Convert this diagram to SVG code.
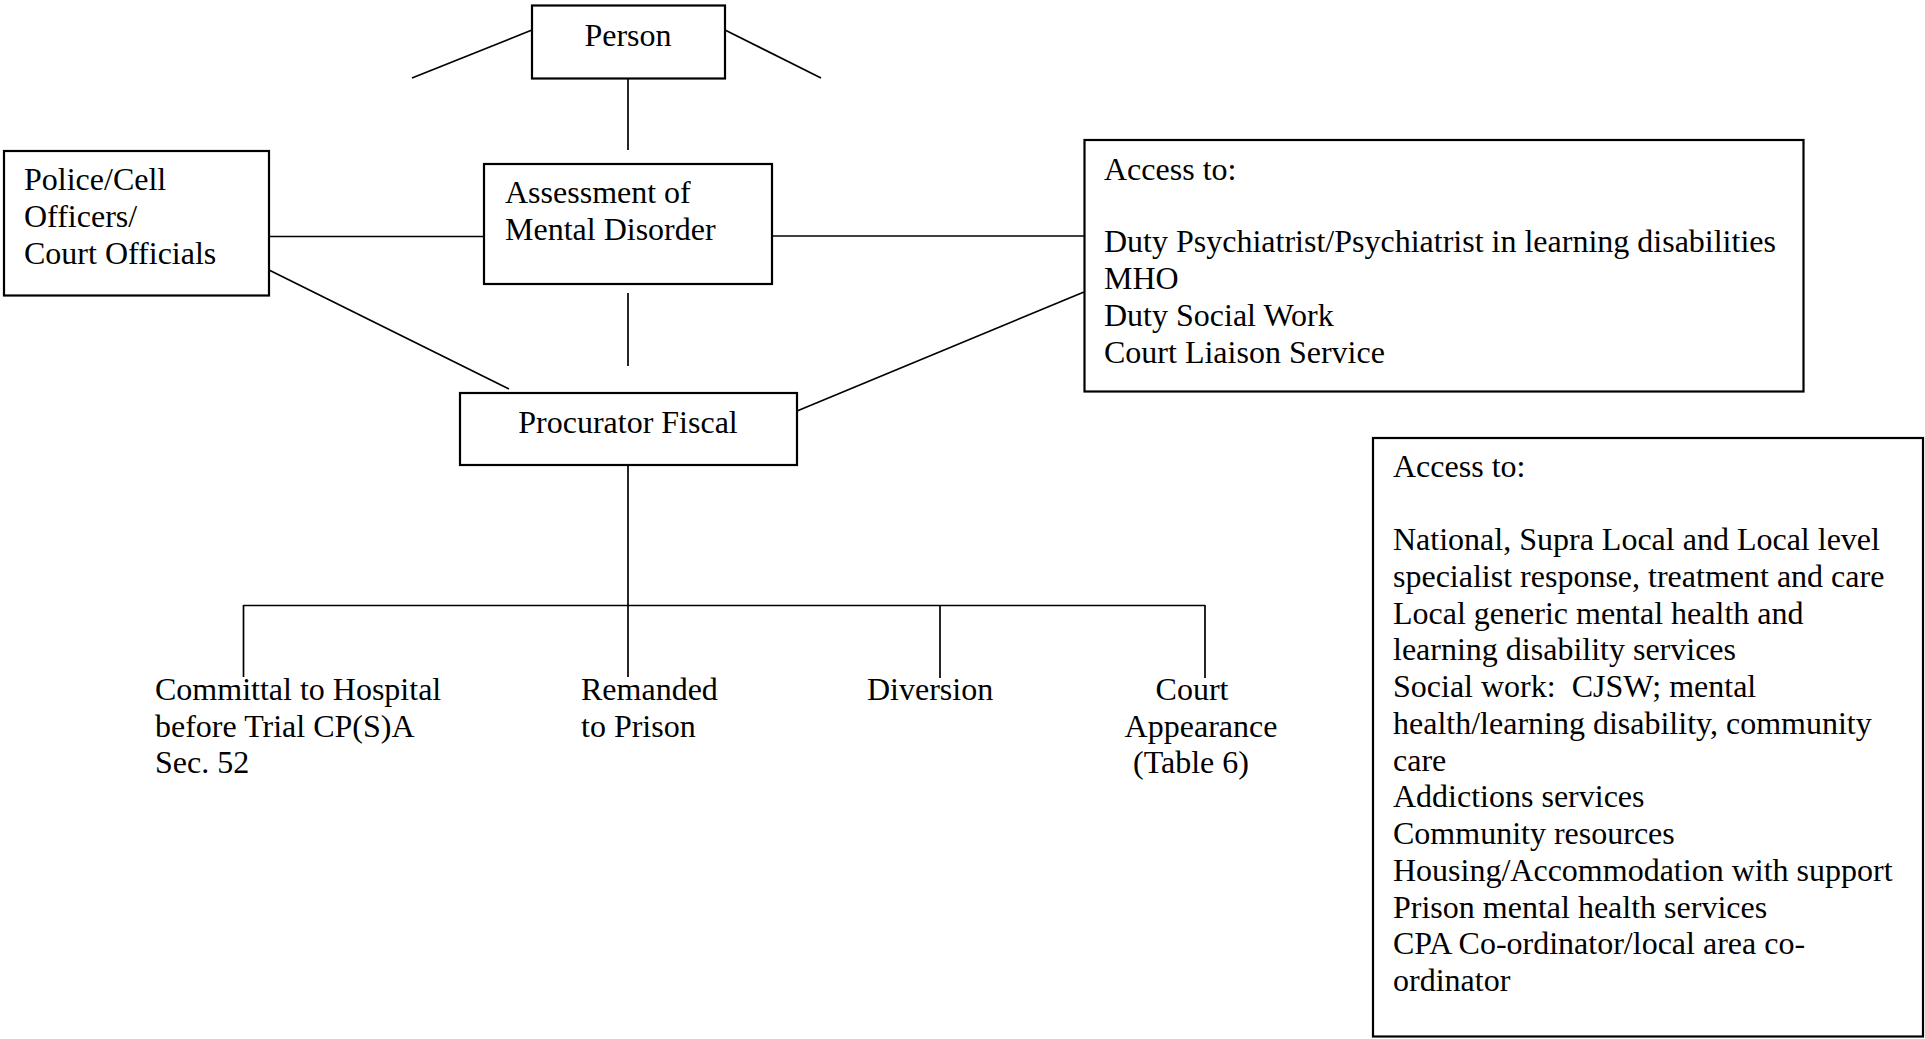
<svg xmlns="http://www.w3.org/2000/svg" width="1925" height="1039" viewBox="0 0 1925 1039">
<style>
.box{fill:#fff;stroke:#000;stroke-width:2.2}
.ln{fill:none;stroke:#000;stroke-width:1.7}
text{font-family:"Liberation Serif","Times New Roman",serif;font-size:32px;fill:#000}
.c{text-anchor:middle}
</style>
<rect width="1925" height="1039" fill="#fff"/>
<g id="connectors">
<line class="ln" x1="412" y1="78" x2="532" y2="30"/>
<line class="ln" x1="725" y1="30" x2="821" y2="78"/>
<line class="ln" x1="628" y1="78" x2="628" y2="150"/>
<line class="ln" x1="269" y1="236.5" x2="484" y2="236.5"/>
<line class="ln" x1="772" y1="236" x2="1084" y2="236"/>
<line class="ln" x1="269" y1="270" x2="509" y2="389"/>
<line class="ln" x1="628" y1="293" x2="628" y2="366"/>
<line class="ln" x1="797" y1="411" x2="1084" y2="292"/>
<line class="ln" x1="628" y1="465" x2="628" y2="677"/>
<line class="ln" x1="243.5" y1="605.5" x2="1205" y2="605.5"/>
<line class="ln" x1="243.5" y1="605" x2="243.5" y2="677"/>
<line class="ln" x1="940" y1="605" x2="940" y2="678"/>
<line class="ln" x1="1205" y1="605" x2="1205" y2="678"/>
</g>
<g id="person">
<rect class="box" x="532" y="5.5" width="193" height="73"/>
<text class="c" x="628" y="46">Person</text>
</g>
<g id="police">
<rect class="box" x="4" y="151" width="265" height="144.5"/>
<text x="24" y="190">Police/Cell</text>
<text x="24" y="227">Officers/</text>
<text x="24" y="264">Court Officials</text>
</g>
<g id="assessment">
<rect class="box" x="484" y="164" width="288" height="120"/>
<text x="505" y="203">Assessment of</text>
<text x="505" y="240">Mental Disorder</text>
</g>
<g id="access-top">
<rect class="box" x="1084.5" y="140" width="719" height="251.5"/>
<text x="1104" y="180">Access to:</text>
<text x="1104" y="252">Duty Psychiatrist/Psychiatrist in learning disabilities</text>
<text x="1104" y="289">MHO</text>
<text x="1104" y="326">Duty Social Work</text>
<text x="1104" y="363">Court Liaison Service</text>
</g>
<g id="procurator">
<rect class="box" x="460" y="393" width="337" height="72"/>
<text class="c" x="628" y="433">Procurator Fiscal</text>
</g>
<g id="access-bottom">
<rect class="box" x="1373" y="438" width="550" height="598.5"/>
<text x="1393" y="477">Access to:</text>
<text x="1393" y="550">National, Supra Local and Local level</text>
<text x="1393" y="586.8">specialist response, treatment and care</text>
<text x="1393" y="623.5">Local generic mental health and</text>
<text x="1393" y="660.3">learning disability services</text>
<text x="1393" y="697" xml:space="preserve">Social work:  CJSW; mental</text>
<text x="1393" y="733.8">health/learning disability, community</text>
<text x="1393" y="770.5">care</text>
<text x="1393" y="807.3">Addictions services</text>
<text x="1393" y="844">Community resources</text>
<text x="1393" y="880.8">Housing/Accommodation with support</text>
<text x="1393" y="917.5">Prison mental health services</text>
<text x="1393" y="954.3">CPA Co-ordinator/local area co-</text>
<text x="1393" y="991">ordinator</text>
</g>
<g id="committal">
<text x="155" y="700">Committal to Hospital</text>
<text x="155" y="737">before Trial CP(S)A</text>
<text x="155" y="773">Sec. 52</text>
</g>
<g id="remanded">
<text x="581" y="700">Remanded</text>
<text x="581" y="737">to Prison</text>
</g>
<g id="diversion">
<text x="867" y="700">Diversion</text>
</g>
<g id="court">
<text class="c" x="1192" y="700">Court</text>
<text class="c" x="1201" y="737">Appearance</text>
<text class="c" x="1191" y="773">(Table 6)</text>
</g>
</svg>
